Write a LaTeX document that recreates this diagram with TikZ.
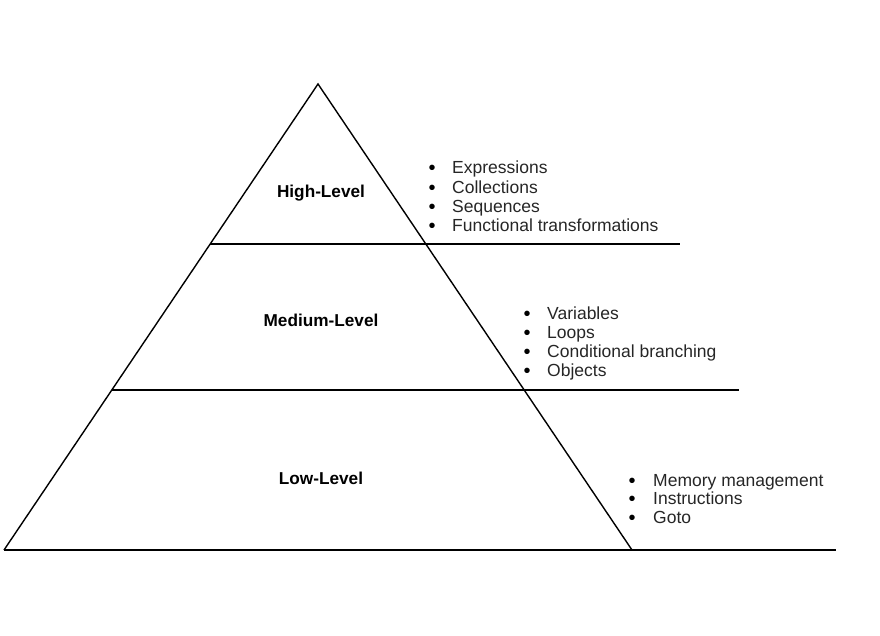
\documentclass[tikz,border=0pt]{standalone}
\usepackage{fontspec}
\setmainfont{Liberation Sans}
\begin{document}
\begin{tikzpicture}[x=1pt,y=-1pt,
  side/.style={line width=1.4pt, line join=miter},
  level/.style={line width=1.9pt},
  lvl/.style={font=\fontsize{17.2}{19}\selectfont\bfseries, anchor=base, inner sep=0pt},
  itm/.style={font=\fontsize{17.5}{19}\selectfont, anchor=base west, inner sep=0pt, text=black!85},
  bul/.style={font=\fontsize{20}{19}\selectfont, anchor=base, inner sep=0pt, yshift=-1pt}]
\useasboundingbox (0,0) rectangle (880,636);
% pyramid corners
\coordinate (apex) at (318,84);
\coordinate (bl) at (4,550);
\coordinate (br) at (632,550);
\draw[side] (bl) -- (apex) -- (br);
% level lines
\coordinate (h1a) at (210,244); \coordinate (h1b) at (680,244);
\coordinate (h2a) at (112,390); \coordinate (h2b) at (739,390);
\coordinate (h3b) at (836,550);
\draw[level] (h1a) -- (h1b);
\draw[level] (h2a) -- (h2b);
\draw[level] (bl) -- (h3b);
% level labels
\node[lvl] (high) at (321,198) {High-Level};
\node[lvl] (med) at (321,326) {Medium-Level};
\node[lvl] (low) at (321,484) {Low-Level};
% high list
\node[bul] (hb1) at (432,174) {•}; \node[itm] (hi1) at (452,174) {Expressions};
\node[bul] (hb2) at (432,193.3) {•}; \node[itm] (hi2) at (452,193.3) {Collections};
\node[bul] (hb3) at (432,212.6) {•}; \node[itm] (hi3) at (452,212.6) {Sequences};
\node[bul] (hb4) at (432,231.9) {•}; \node[itm] (hi4) at (452,231.9) {Functional transformations};
% medium list
\node[bul] (mb1) at (527,319) {•}; \node[itm] (mi1) at (547,319) {Variables};
\node[bul] (mb2) at (527,338.3) {•}; \node[itm] (mi2) at (547,338.3) {Loops};
\node[bul] (mb3) at (527,357.6) {•}; \node[itm] (mi3) at (547,357.6) {Conditional branching};
\node[bul] (mb4) at (527,376.9) {•}; \node[itm] (mi4) at (547,376.9) {Objects};
% low list
\node[bul] (lb1) at (632,486) {•}; \node[itm] (li1) at (653,486) {Memory management};
\node[bul] (lb2) at (632,504.7) {•}; \node[itm] (li2) at (653,504.7) {Instructions};
\node[bul] (lb3) at (632,523.4) {•}; \node[itm] (li3) at (653,523.4) {Goto};
\end{tikzpicture}
\end{document}
